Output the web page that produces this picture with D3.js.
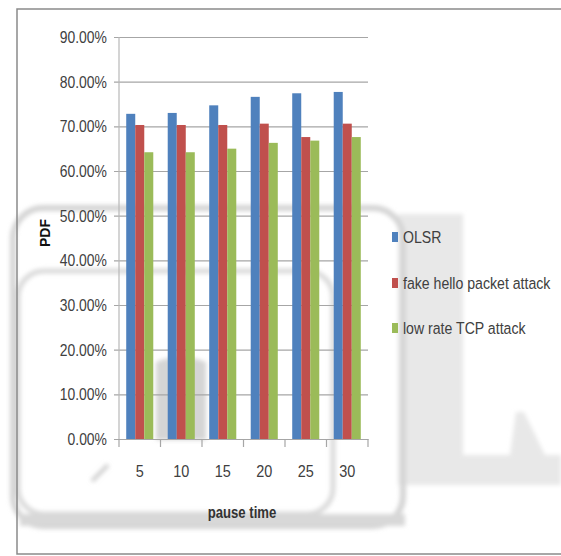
<!DOCTYPE html>
<html>
<head>
<meta charset="utf-8">
<script src="https://cdn.jsdelivr.net/npm/d3@7"></script>
<style>
  html, body { margin: 0; padding: 0; background: #fff; }
  svg { display: block; }
  text { font-family: "Liberation Sans", Arial, sans-serif; }
</style>
</head>
<body>
<svg id="chart" width="561" height="556"></svg>
<script>
// Pause times (x categories)
const categories = ["5", "10", "15", "20", "25", "30"];
// Series names as shown in the legend
const seriesNames = ["OLSR", "fake hello packet attack", "low rate TCP attack"];
// Packet delivery fraction per series, one value per pause time
const olsr      = [0.728, 0.730, 0.747, 0.766, 0.774, 0.777];
const fakeHello = [0.703, 0.703, 0.703, 0.706, 0.676, 0.706];
const lowRate   = [0.642, 0.642, 0.650, 0.663, 0.668, 0.676];
// Y axis tick values
const yTicks = [0, 0.1, 0.2, 0.3, 0.4, 0.5, 0.6, 0.7, 0.8, 0.9];

const seriesValues = [olsr, fakeHello, lowRate];
const colors = ["#4f81bd", "#c0504d", "#9bbb59"];

// Squeeze text horizontally about its anchor point to mimic a narrow face
function condense(sel, factor) {
  sel.each(function () {
    const ax = +(this.getAttribute("x") || 0);
    d3.select(this).attr("transform", `translate(${ax * (1 - factor)},0) scale(${factor},1)`);
  });
}

const svg = d3.select("#chart");

// Soft grey background emblem behind the chart
const defs = svg.append("defs");
defs.append("filter").attr("id", "soft")
  .append("feGaussianBlur").attr("stdDeviation", 2);
const emblem = svg.append("g").attr("filter", "url(#soft)");
emblem.append("path")
  .attr("d", "M398,214 L463,214 L463,455 L561,455 L561,485 L398,485 Z")
  .attr("fill", "#e8e8e8");
emblem.append("path")
  .attr("d", "M510,455 L516,412 L524,412 L545,455 Z")
  .attr("fill", "#e8e8e8");
emblem.append("rect")
  .attr("x", 13).attr("y", 208).attr("width", 390).attr("height", 318)
  .attr("rx", 30)
  .attr("fill", "none").attr("stroke", "#d4d4d4").attr("stroke-width", 6);
emblem.append("rect")
  .attr("x", 18).attr("y", 271).attr("width", 315).attr("height", 243)
  .attr("rx", 26)
  .attr("fill", "none").attr("stroke", "#dadada").attr("stroke-width", 5);
emblem.append("rect")
  .attr("x", 20).attr("y", 514).attr("width", 385).attr("height", 12)
  .attr("fill", "#d8d8d8");
emblem.append("path")
  .attr("d", "M156,440 L156,362 Q180,352 206,362 L206,440 Z")
  .attr("fill", "#d5d5d5");
emblem.append("line")
  .attr("x1", 92).attr("y1", 481).attr("x2", 108).attr("y2", 465)
  .attr("stroke", "#d0d0d0").attr("stroke-width", 4);

// Outer frame
svg.append("path")
  .attr("d", "M561,9 L17,9 L17,554 L561,554")
  .attr("fill", "none").attr("stroke", "#8a8a8a").attr("stroke-width", 1.5);

// Scales
const x0 = d3.scaleBand().domain(categories).range([119, 368]);
const x1 = d3.scaleBand().domain(seriesNames)
  .range([0, x0.bandwidth()]).paddingInner(0).paddingOuter(0.8);
const y = d3.scaleLinear().domain([0, 0.9]).range([439, 37]);

// Gridlines with small ticks to the left of the axis
const yAxis = d3.axisLeft(y)
  .tickValues(yTicks)
  .tickFormat(d3.format(".2%"))
  .tickSize(-(368 - 114))
  .tickPadding(7);
const gy = svg.append("g").attr("transform", "translate(114,0)").call(yAxis);
gy.select(".domain").remove();
gy.selectAll(".tick line").attr("stroke", "#a6a6a6").attr("stroke-width", 1.2);
gy.selectAll(".tick text")
  .attr("fill", "#404040").attr("font-size", 17)
  .call(condense, 0.82);

// Vertical value axis line
svg.append("line")
  .attr("x1", 119).attr("x2", 119).attr("y1", 37).attr("y2", 439)
  .attr("stroke", "#b8b8b8").attr("stroke-width", 1.2);

// Bars
const groups = svg.append("g").selectAll("g")
  .data(categories)
  .join("g")
  .attr("transform", d => `translate(${x0(d)},0)`);
groups.selectAll("rect")
  .data((c, i) => seriesNames.map((s, k) => ({ s, k, v: seriesValues[k][i] })))
  .join("rect")
  .attr("x", d => x1(d.s))
  .attr("width", x1.bandwidth())
  .attr("y", d => y(d.v))
  .attr("height", d => y(0) - y(d.v))
  .attr("fill", d => colors[d.k]);

// Category axis
const xAxis = d3.axisBottom(x0).tickSize(0).tickPadding(26);
const gx = svg.append("g").attr("transform", "translate(0,439)").call(xAxis);
gx.select(".domain").attr("stroke", "#a6a6a6").attr("stroke-width", 1.2);
gx.selectAll(".tick text").attr("fill", "#404040").attr("font-size", 17)
  .call(condense, 0.85);
// Tick marks between categories
const bounds = categories.map(c => x0(c)).concat([368]);
gx.selectAll(".sep").data(bounds).join("line")
  .attr("class", "sep")
  .attr("x1", d => d).attr("x2", d => d)
  .attr("y1", 0).attr("y2", 8)
  .attr("stroke", "#a6a6a6").attr("stroke-width", 1.2);

// Axis titles
svg.append("text")
  .attr("x", 242).attr("y", 518)
  .attr("text-anchor", "middle")
  .attr("font-size", 16).attr("font-weight", "bold")
  .attr("fill", "#333")
  .text("pause time")
  .call(condense, 0.82);
svg.append("text")
  .attr("transform", "translate(50,233) rotate(-90)")
  .attr("text-anchor", "middle")
  .attr("font-size", 14).attr("font-weight", "bold")
  .attr("fill", "#111")
  .text("PDF");

// Legend
const legendY = [237, 283, 328];
const legend = svg.append("g").selectAll("g")
  .data(seriesNames)
  .join("g")
  .attr("transform", (d, i) => `translate(392,${legendY[i]})`);
legend.append("rect")
  .attr("x", 0).attr("y", -5).attr("width", 6).attr("height", 10)
  .attr("fill", (d, i) => colors[i]);
legend.append("text")
  .attr("x", 11).attr("y", 6)
  .attr("font-size", 17).attr("fill", "#404040")
  .text(d => d)
  .call(condense, 0.83);
</script>
</body>
</html>
